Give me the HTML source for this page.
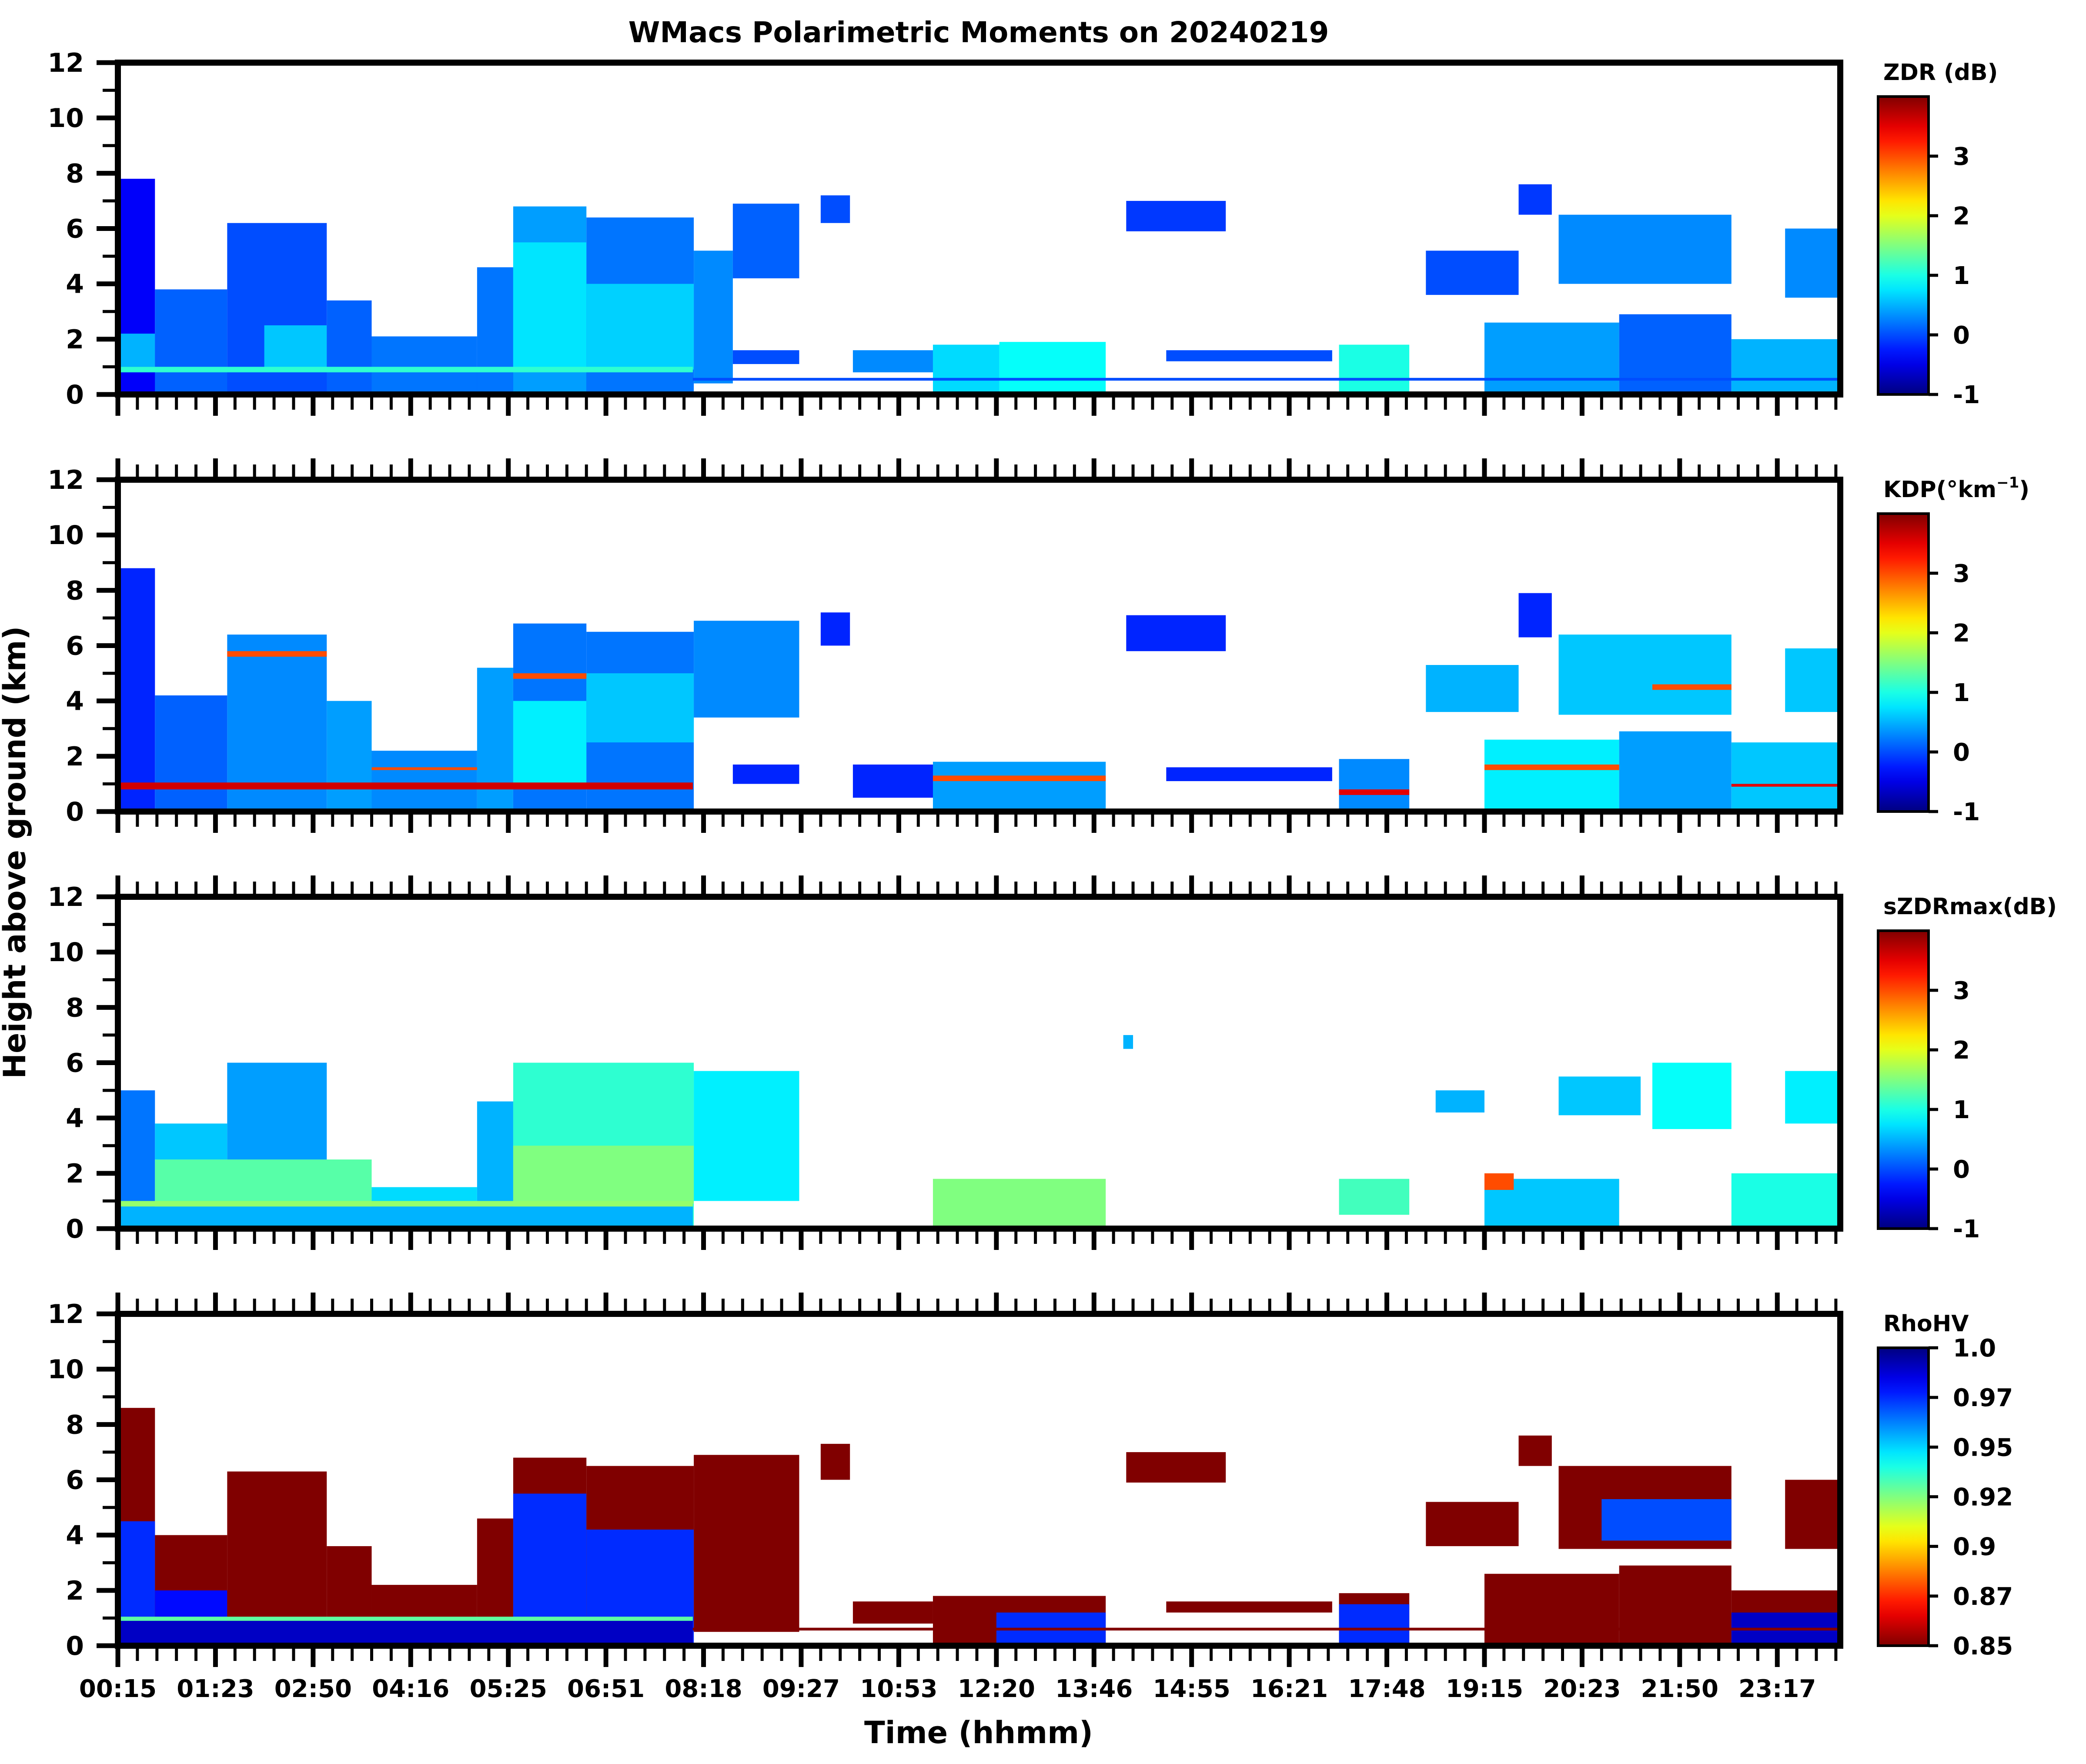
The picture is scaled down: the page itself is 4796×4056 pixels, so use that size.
<!DOCTYPE html>
<html><head><meta charset="utf-8">
<style>
html,body{margin:0;padding:0;background:#fff;}
svg{display:block;font-family:"DejaVu Sans","Liberation Sans",sans-serif;font-weight:bold;}
</style></head>
<body>
<svg id="fig" xmlns="http://www.w3.org/2000/svg" width="4796" height="4056" viewBox="0 0 4796 4056">
<text x="2250" y="97" font-size="66" text-anchor="middle">WMacs Polarimetric Moments on 20240219</text>
<text x="2250" y="4008" font-size="70" text-anchor="middle">Time (hhmm)</text>
<text x="0" y="0" font-size="70" text-anchor="middle" transform="translate(58,1960) rotate(-90)">Height above ground (km)</text>
</svg>
<script>
// ---- data ----
const timeLabels = ["00:15","01:23","02:50","04:16","05:25","06:51","08:18","09:27","10:53","12:20","13:46","14:55","16:21","17:48","19:15","20:23","21:50","23:17"];
const heightTicks = [0,2,4,6,8,10,12];
const zdrTicks = [-1,0,1,2,3];
const rhoTicks = [0.85,0.875,0.9,0.925,0.95,0.975,1.0];
const rhoTickLabels = ["0.85","0.87","0.9","0.92","0.95","0.97","1.0"];
// cloud segments: [timeStart, timeEnd (major-tick index units), baseKm, topKm, value]
const zdrSegments = [
[0,5.89,0,0.8,0.0],[0,0.38,0,7.8,-0.4],[0,0.38,1,2.2,0.5],[0.38,1.12,0,3.8,0.1],[1.12,2.14,0,6.2,0.0],
[1.5,2.14,0.9,2.5,0.6],[2.14,2.6,0,3.4,0.1],[2.6,3.68,0,2.1,0.2],[3.68,4.05,0,4.6,0.2],[4.05,4.8,0,6.8,0.4],
[4.05,4.8,0.9,5.5,0.75],[4.8,5.9,0,6.4,0.2],[4.8,5.9,0.9,4,0.65],[5.9,6.3,0.4,5.2,0.3],[6.3,6.98,4.2,6.9,0.1],
[6.3,6.98,1.1,1.6,0.0],[7.2,7.5,6.2,7.2,0.0],[7.53,8.35,0.8,1.6,0.3],[8.35,9.03,0,1.8,0.7],[9.03,10.12,0,1.9,0.9],
[10.33,11.35,5.9,7,-0.1],[10.74,12.44,1.2,1.6,0.0],[12.51,13.23,0,1.8,1.0],[13.4,14.35,3.6,5.2,0.0],[14.0,15.38,0,2.6,0.4],
[14.35,14.69,6.5,7.6,-0.1],[14.76,16.53,4,6.5,0.3],[15.38,16.53,0,2.9,0.1],[16.53,17.67,0,2,0.5],[17.08,17.67,3.5,6,0.3],
[0,5.89,0.8,1.0,1.1],[5.89,17.67,0.5,0.6,0.0]];
const kdpSegments = [
[0,0.38,0,8.8,-0.2],[0.38,1.12,0,4.2,0.1],[1.12,2.14,0,6.4,0.3],[2.14,2.6,0,4,0.4],[2.6,3.68,0,2.2,0.3],
[3.68,4.05,0,5.2,0.4],[4.05,4.8,0,6.8,0.2],[4.05,4.8,1,4,0.8],[4.8,5.9,0,6.5,0.2],[4.8,5.9,2.5,5,0.6],
[5.9,6.98,3.4,6.9,0.3],[6.3,6.98,1,1.7,-0.2],[7.2,7.5,6,7.2,-0.2],[7.53,9.03,0.5,1.7,-0.2],[8.35,10.12,0,1.8,0.4],
[10.33,11.35,5.8,7.1,-0.2],[10.74,12.44,1.1,1.6,-0.2],[12.51,13.23,0,1.9,0.3],[13.4,14.35,3.6,5.3,0.5],[14.0,15.38,0,2.6,0.8],
[14.35,14.69,6.3,7.9,-0.2],[14.76,16.53,3.5,6.4,0.6],[15.38,16.53,0,2.9,0.4],[16.53,17.67,0,2.5,0.6],[17.08,17.67,3.6,5.9,0.6],
[0,5.89,0.8,1.05,3.6],[8.35,10.12,1.1,1.3,3.0],[12.51,13.23,0.6,0.8,3.5],[14.0,15.38,1.5,1.7,3.0],[15.72,16.53,4.4,4.6,3.0],
[16.53,17.67,0.9,1.0,3.5],[1.12,2.14,5.6,5.8,3.0],[4.05,4.8,4.8,5.0,3.0],[2.6,3.68,1.5,1.6,3.0]];
const szdrSegments = [
[0,0.38,0,5,0.2],[0.38,2.6,0,2.5,1.3],[1.12,2.14,2.5,6,0.4],[0.38,1.12,2.5,3.8,0.6],[2.6,3.68,0,1.5,0.7],
[3.68,4.05,0,4.6,0.5],[4.05,5.9,0,6,1.1],[4.05,5.9,0.9,3,1.5],[5.9,6.98,1,5.7,0.8],[8.35,10.12,0.1,1.8,1.5],
[10.3,10.4,6.5,7,0.5],[12.51,13.23,0.5,1.8,1.2],[14.0,15.38,0.1,1.8,0.6],[14.0,14.3,1.4,2.0,3.0],[13.5,14.0,4.2,5,0.5],
[14.76,15.6,4.1,5.5,0.6],[15.72,16.53,3.6,6,0.9],[16.53,17.67,0.1,2,1.0],[17.08,17.67,3.8,5.7,0.8],
[0,5.89,0,0.8,0.5],[0,5.89,0.8,1.0,1.6]];
const rhoSegments = [
[0,0.38,0,8.6,0.85],[0,0.38,0,4.5,0.975],[0.38,1.12,0,4,0.85],[0.38,1.12,0,2,0.98],[1.12,2.14,0,6.3,0.85],
[2.14,2.6,0,3.6,0.85],[2.6,3.68,0,2.2,0.85],[3.68,4.05,0,4.6,0.85],[4.05,4.8,0,6.8,0.85],[4.05,4.8,0,5.5,0.975],
[4.8,5.9,0,6.5,0.85],[4.8,5.9,0,4.2,0.975],[5.9,6.98,0.5,6.9,0.85],[7.2,7.5,6,7.3,0.85],[7.53,8.35,0.8,1.6,0.85],
[8.35,10.12,0,1.8,0.85],[9.0,10.12,0,1.2,0.975],[10.33,11.35,5.9,7,0.85],[10.74,12.44,1.2,1.6,0.85],[12.51,13.23,0,1.9,0.85],
[12.51,13.23,0,1.5,0.975],[13.4,14.35,3.6,5.2,0.85],[14.0,15.38,0,2.6,0.85],[14.35,14.69,6.5,7.6,0.85],[14.76,16.53,3.5,6.5,0.85],
[15.2,16.53,3.8,5.3,0.97],[15.38,16.53,0,2.9,0.85],[16.53,17.67,0,2,0.85],[16.53,17.67,0,1.2,0.99],[17.08,17.67,3.5,6,0.85],
[0,5.89,0,0.9,0.99],[0,5.89,0.9,1.05,0.93],[5.89,17.67,0.55,0.65,0.85]];

// ---- layout ----
const NS="http://www.w3.org/2000/svg";
const svg=document.getElementById('fig');
const X0=271,X1=4231,UMAX=17.645,PH=763;
const tops=[144,1103,2062,3021];
function xs(u){return X0+(u/UMAX)*(X1-X0);}
function ysFor(top){return km=>top+PH-(km/12)*PH;}
function el(tag,attrs,parent){const e=document.createElementNS(NS,tag);for(const k in attrs)e.setAttribute(k,attrs[k]);(parent||svg).appendChild(e);return e;}
function jet(t){t=Math.max(0,Math.min(1,t));
 const r=Math.max(0,Math.min(1,1.5-Math.abs(4*t-3))),g=Math.max(0,Math.min(1,1.5-Math.abs(4*t-2))),b=Math.max(0,Math.min(1,1.5-Math.abs(4*t-1)));
 return `rgb(${Math.round(r*255)},${Math.round(g*255)},${Math.round(b*255)})`;}
const defs=el('defs',{});
const gj=el('linearGradient',{id:'jetv',x1:0,y1:1,x2:0,y2:0},defs);
for(let i=0;i<=20;i++){el('stop',{offset:i/20,'stop-color':jet(i/20)},gj);}
const gr=el('linearGradient',{id:'jetr',x1:0,y1:0,x2:0,y2:1},defs);
for(let i=0;i<=20;i++){el('stop',{offset:i/20,'stop-color':jet(i/20)},gr);}

const panels=[
 {name:'zdr',segs:zdrSegments,title:'ZDR (dB)',norm:v=>(v+1)/5,grad:'jetv'},
 {name:'kdp',segs:kdpSegments,title:'KDP',norm:v=>(v+1)/5,grad:'jetv'},
 {name:'szdrmax',segs:szdrSegments,title:'sZDRmax(dB)',norm:v=>(v+1)/5,grad:'jetv'},
 {name:'rhohv',segs:rhoSegments,title:'RhoHV',norm:v=>(1-v)/0.15,grad:'jetr'}];

panels.forEach((p,pi)=>{
 const top=tops[pi],bot=top+PH,ys=ysFor(top);
 const g=el('g',{});
 
 
 const cp=el('clipPath',{id:'clip'+pi},defs);
 el('rect',{x:X0,y:top,width:X1-X0,height:PH},cp);
 const cg=el('g',{'clip-path':`url(#clip${pi})`},g);
 p.segs.forEach((s,i)=>{
  const r=el('rect',{x:xs(s[0]),y:ys(s[3]),width:xs(s[1])-xs(s[0]),height:ys(s[2])-ys(s[3]),fill:jet(p.norm(s[4]))},cg);
  
  
 });
 for(let k=0;k<=12;k++){
  const y=ys(k),major=k%2===0;
  el('line',{x1:X0-(major?49:35),x2:X0,y1:y,y2:y,stroke:'#000','stroke-width':major?11:7},g);
 }
 heightTicks.forEach(k=>{
  const t=el('text',{x:193,y:ys(k)+21,'font-size':60,'text-anchor':'end'},g);
  t.textContent=k;
  
  
 });
 for(let m=0;m<=88;m++){
  const u=m*0.2; if(u>UMAX)break;
  const x=xs(u),major=m%5===0;
  el('line',{x1:x,x2:x,y1:bot,y2:bot+(major?49:35),stroke:'#000','stroke-width':major?11:7},g);
  if(pi>0) el('line',{x1:x,x2:x,y1:top,y2:top-(major?49:35),stroke:'#000','stroke-width':major?11:7},g);
 }
 if(pi===3){
  timeLabels.forEach((lab,k)=>{
   const t=el('text',{x:xs(k),y:3902,'font-size':56,'text-anchor':'middle'},g);
   t.textContent=lab;
   
   
  });
 }
 el('rect',{x:X0,y:top,width:X1-X0,height:PH,fill:'none',stroke:'#000','stroke-width':14},g);
 const cx=4318,cw=116,ct=top+78,cb=bot;
 const cbar=el('rect',{x:cx,y:ct,width:cw,height:cb-ct,fill:`url(#${p.grad})`,stroke:'#000','stroke-width':6},g);
 
 
 const ticks=pi===3?rhoTicks:zdrTicks;
 const labs=pi===3?rhoTickLabels:zdrTicks.map(String);
 const cy=v=>pi===3?cb-(v-0.85)/0.15*(cb-ct):cb-(v+1)/5*(cb-ct);
 ticks.forEach((v,i)=>{
  el('line',{x1:cx+cw,x2:cx+cw+22,y1:cy(v),y2:cy(v),stroke:'#000','stroke-width':7},g);
  const t=el('text',{x:cx+cw+56,y:cy(v)+20,'font-size':56},g);
  t.textContent=labs[i];
  
  
 });
 const tt=el('text',{x:4330,y:top+40,'font-size':52},g);
 
 
 if(p.name==='kdp'){
  tt.appendChild(document.createTextNode('KDP(°km'));
  const sup=el('tspan',{'font-size':34,dy:-22},tt);sup.textContent='−1';
  const cl=el('tspan',{'font-size':52,dy:22},tt);cl.textContent=')';
 } else tt.textContent=p.title;
});
</script>
</body></html>
